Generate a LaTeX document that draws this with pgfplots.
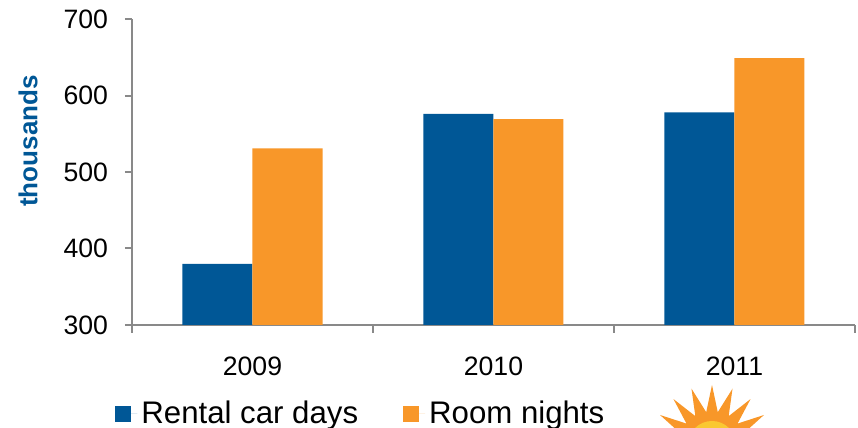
\documentclass[border=0pt]{standalone}
\usepackage{fontspec}
\setmainfont{Liberation Sans}
\usepackage{pgfplots}
\pgfplotsset{compat=1.18}
\usetikzlibrary{shapes.geometric}
\definecolor{cblue}{RGB}{0,87,150}
\definecolor{corange}{RGB}{248,151,41}
\definecolor{axgray}{RGB}{137,137,137}
\definecolor{csun}{RGB}{250,200,50}
\begin{document}
\begin{tikzpicture}[x=1pt,y=1pt]
\useasboundingbox (0,0) rectangle (429,214);
\clip (0,0) rectangle (429,214);
\begin{axis}[
  at={(66pt,51.5pt)}, anchor=south west,
  scale only axis, width=361.5pt, height=153pt,
  ybar=0pt, bar width=35pt,
  xmin=-0.5, xmax=2.5, ymin=300, ymax=700,
  ytick={300,400,...,700},
  xtick={0,1,2}, xticklabels={2009,2010,2011},
  minor xtick={-0.5,0.5,1.5,2.5},
  axis x line*=bottom, axis y line*=left,
  axis line style={axgray, line width=1pt},
  tick style={axgray, line width=1pt},
  tick align=outside,
  major x tick style={draw=none},
  minor tick length=4pt,
  major tick length=3.5pt,
  /pgf/number format/assume math mode=true,
  ticklabel style={font=\fontsize{13.3}{15}\selectfont, text=black},
  yticklabel style={xshift=-5pt},
  xticklabel style={yshift=-9pt},
  legend columns=2,
  legend image code/.code={\fill[#1, draw=none] (0pt,-4pt) rectangle (8pt,4pt); \path (0pt,0pt) -- (11pt,0pt);},
  legend style={draw=none, fill=none, inner sep=0pt,
    font=\fontsize{15.6}{18}\selectfont,
    at={(axis description cs:0,0)}, anchor=west, xshift=-8.5pt, yshift=-44.5pt,
    /tikz/every even column/.append style={column sep=20.5pt}},
]
\addplot[fill=cblue, draw=none] coordinates {(0,380) (1,576) (2,578)};
\addplot[fill=corange, draw=none] coordinates {(0,531) (1,569) (2,649)};
\legend{Rental car days, Room nights}
\end{axis}
\node[rotate=90, text=cblue, font=\fontsize{13}{15}\selectfont\bfseries] at (14,143.5) {thousands};
\node[star, star points=18, star point ratio=1.8, fill=corange, minimum size=60pt, inner sep=0pt] at (356,-8.5) {};
\fill[csun] (356,-8.5) circle (12pt);
\end{tikzpicture}
\end{document}
